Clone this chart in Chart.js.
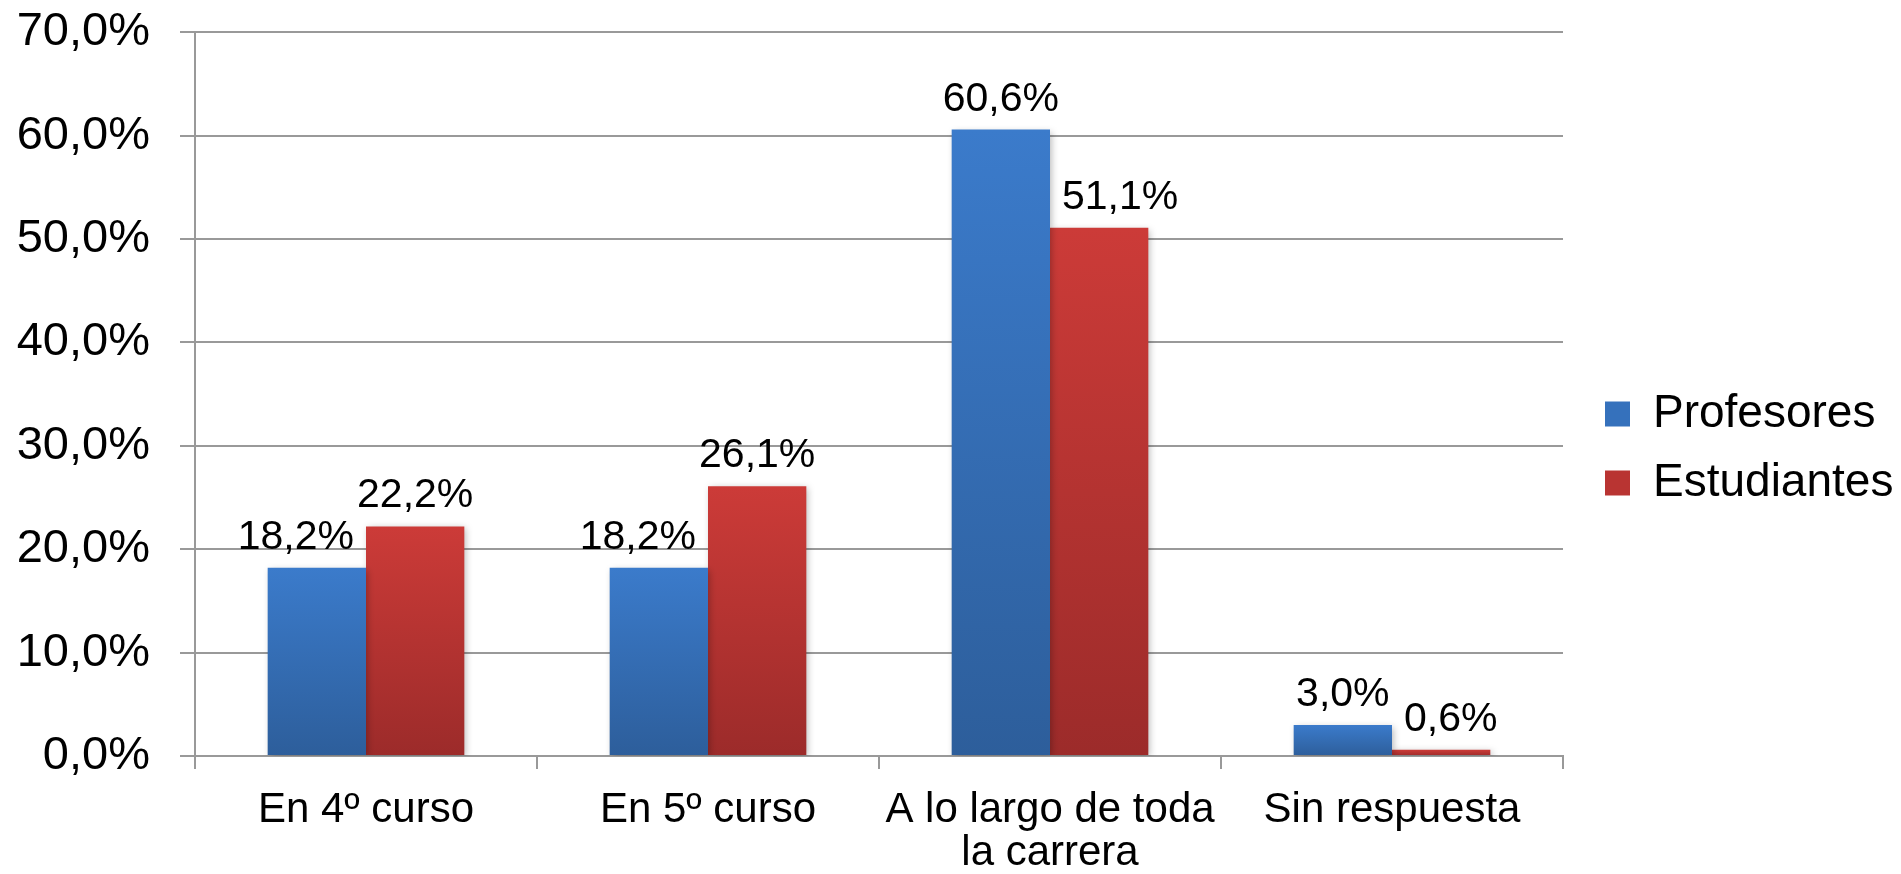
<!DOCTYPE html>
<html>
<head>
<meta charset="utf-8">
<script src="https://cdn.jsdelivr.net/npm/chart.js@4"></script>
<style>
  body { margin: 0; background: #fff; }
  #wrap { width: 1901px; height: 874px; }
</style>
</head>
<body>
<div id="wrap"><canvas id="chart" width="1901" height="874"></canvas></div>
<script>
// datos
const categorias = ['En 4º curso', 'En 5º curso', ['A lo largo de toda', 'la carrera'], 'Sin respuesta'];
const profesores = [18.2, 18.2, 60.6, 3.0];
const estudiantes = [22.2, 26.1, 51.1, 0.6];
const yTicks = ['0,0%', '10,0%', '20,0%', '30,0%', '40,0%', '50,0%', '60,0%', '70,0%'];

const FONT = '"Liberation Sans", Arial, sans-serif';

function pct(v) {
    return v.toFixed(1).replace('.', ',') + '%';
}

// degradado vertical por barra (como Excel)
function barFill(top, bottom) {
    return (ctx) => {
        const chart = ctx.chart;
        const y = chart.scales && chart.scales.y;
        if (ctx.type !== 'data' || !y) return top;
        const y0 = y.getPixelForValue(ctx.raw);
        const y1 = y.getPixelForValue(0);
        if (!isFinite(y0) || !isFinite(y1) || y1 - y0 < 1) return top;
        const g = chart.ctx.createLinearGradient(0, y0, 0, y1);
        g.addColorStop(0, top);
        g.addColorStop(1, bottom);
        return g;
    };
}

// sombra de las barras + etiquetas de valor
const etiquetas = {
    id: 'etiquetas',
    beforeDatasetsDraw(chart) {
        const c = chart.ctx;
        c.save();
        c.shadowColor = 'rgba(0,0,0,0.28)';
        c.shadowBlur = 7;
        c.shadowOffsetX = 2;
        c.shadowOffsetY = 2;
    },
    afterDatasetsDraw(chart) {
        const c = chart.ctx;
        c.restore();
        c.save();
        c.font = '41px ' + FONT;
        c.fillStyle = '#000';
        c.textAlign = 'center';
        c.textBaseline = 'alphabetic';
        const metas = chart.data.datasets.map((d, i) => chart.getDatasetMeta(i));
        metas.forEach((meta, di) => {
            meta.data.forEach((bar, i) => {
                const text = pct(chart.data.datasets[di].data[i]);
                const w = c.measureText(text).width;
                const base = bar.y - 19;
                let x = bar.x;
                // si la etiqueta pisa la barra vecina mas alta, se aparta
                metas.forEach((other, oi) => {
                    if (oi === di) return;
                    const ob = other.data[i];
                    if (ob.y < base) {
                        const dir = bar.x > ob.x ? 1 : -1;
                        x += dir * ((w - bar.width) / 2 + 12);
                    }
                });
                c.fillText(text, x, base);
            });
        });
        c.restore();
    }
};

const colLeyenda = ['#3571BC', '#B93432'];
const gris = '#999999';

new Chart(document.getElementById('chart'), {
    type: 'bar',
    data: {
        labels: categorias,
        datasets: [{
            label: 'Profesores',
            data: profesores,
            backgroundColor: barFill('#3B7BCB', '#2D5E9B'),
            borderWidth: 0,
            categoryPercentage: 0.575,
            barPercentage: 1.0
        }, {
            label: 'Estudiantes',
            data: estudiantes,
            backgroundColor: barFill('#CC3B38', '#9C2B2A'),
            borderWidth: 0,
            categoryPercentage: 0.575,
            barPercentage: 1.0
        }]
    },
    options: {
        responsive: false,
        animation: false,
        layout: {
            padding: { top: 23, left: 17, right: 6, bottom: 0 }
        },
        plugins: {
            tooltip: { enabled: false },
            legend: {
                position: 'right',
                labels: {
                    font: { family: FONT, size: 46 },
                    color: '#000',
                    boxWidth: 25,
                    boxHeight: 25,
                    padding: 23,
                    generateLabels(chart) {
                        const items = Chart.defaults.plugins.legend.labels.generateLabels(chart);
                        items.forEach((it, i) => {
                            it.fillStyle = colLeyenda[i];
                            it.strokeStyle = colLeyenda[i];
                            it.lineWidth = 0;
                        });
                        return items;
                    }
                }
            }
        },
        scales: {
            x: {
                offset: true,
                grid: {
                    offset: true,
                    drawOnChartArea: false,
                    drawTicks: true,
                    tickLength: 13,
                    color: gris,
                    lineWidth: 2
                },
                border: { display: true, color: gris, width: 2 },
                ticks: {
                    color: '#000',
                    padding: 20,
                    maxRotation: 0,
                    autoSkip: false,
                    font: { family: FONT, size: 42, lineHeight: 1.03 }
                },
                afterFit(s) { s.height = 118; }
            },
            y: {
                min: 0,
                max: 70,
                grid: {
                    color: gris,
                    lineWidth: 2,
                    tickLength: 15
                },
                border: { display: true, color: gris, width: 2 },
                ticks: {
                    stepSize: 10,
                    color: '#000',
                    padding: 30,
                    font: { family: FONT, size: 47, lineHeight: 0.1 },
                    callback: (v, i) => yTicks[i]
                },
                afterFit(s) { s.width = 178; }
            },
            hueco: {
                position: 'right',
                display: true,
                grid: { display: false },
                border: { display: false },
                ticks: { display: false },
                afterFit(s) { s.width = 19; }
            }
        }
    },
    plugins: [etiquetas]
});
</script>
</body>
</html>
